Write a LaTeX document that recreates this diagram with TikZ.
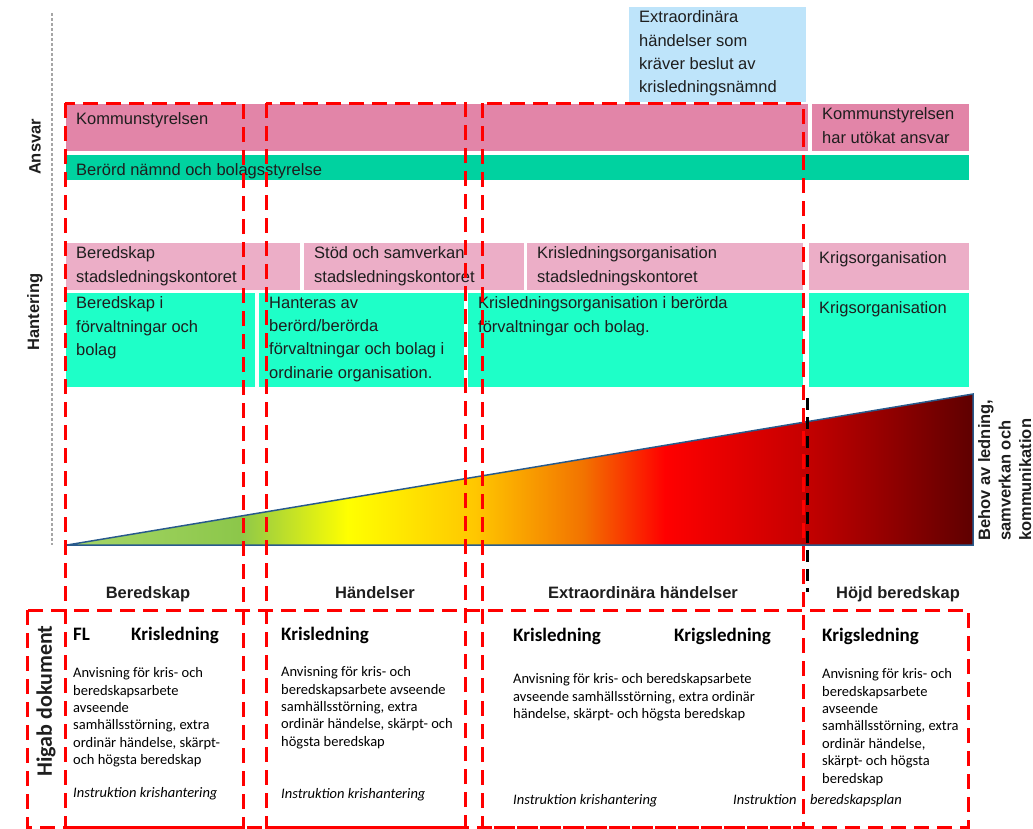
\documentclass[tikz,border=0pt]{standalone}
\usepackage{fontspec}
\setmainfont{Liberation Sans}
\newfontfamily\calibri{Carlito}
\usetikzlibrary{calc}

\definecolor{ksrosa}{RGB}{226,133,168}
\definecolor{ljusrosa}{RGB}{236,174,199}
\definecolor{namndgron}{RGB}{0,210,160}
\definecolor{turkos}{RGB}{30,255,200}
\definecolor{ljusbla}{RGB}{190,228,250}
\definecolor{textgra}{RGB}{30,30,30}
\definecolor{kantbla}{RGB}{40,90,140}

\pgfdeclarehorizontalshading{behov}{100bp}{rgb(0bp)=(0.65,0.84,0.41); rgb(25bp)=(0.65,0.84,0.41); rgb(34.5bp)=(0.55,0.78,0.29); rgb(40.5bp)=(1,1,0); rgb(47.5bp)=(1,0.78,0); rgb(53.5bp)=(0.95,0.45,0); rgb(58bp)=(1,0,0); rgb(65.5bp)=(0.78,0,0); rgb(75bp)=(0.37,0,0); rgb(100bp)=(0.37,0,0)}

\tikzstyle{rad} = [rectangle, anchor=north west, inner sep=0pt, outer sep=0pt]
\tikzstyle{rutext} = [anchor=north west, inner sep=0pt, align=left, text=textgra, font=\fontsize{16.5}{23.4}\selectfont, execute at begin node=\strut, xshift=10pt, yshift=-3.5pt]
\tikzstyle{kolumn} = [anchor=base, inner sep=0pt, text=textgra, font=\bfseries\fontsize{16.5}{20}\selectfont]
\tikzstyle{sidtext} = [rotate=90, inner sep=0pt, text=textgra, font=\bfseries\fontsize{16.5}{20.5}\selectfont]
\tikzstyle{rubrik} = [anchor=base west, inner sep=0pt, font=\calibri\bfseries\fontsize{19}{22}\selectfont]
\tikzstyle{brodtext} = [anchor=north west, inner sep=0pt, align=left, font=\calibri\fontsize{14.5}{17.4}\selectfont, execute at begin node=\strut]
\tikzstyle{instr} = [anchor=base west, inner sep=0pt, font=\calibri\itshape\fontsize{14.5}{17.4}\selectfont]
\tikzstyle{streck} = [red, line width=3pt, dash pattern=on 15pt off 8pt]

\begin{document}
\begin{tikzpicture}[x=1pt, y=-1pt]
        \useasboundingbox (0,0) rectangle (1033,828);

        % Ansvar
        \node (beslut) [rad, fill=ljusbla, minimum width=177pt, minimum height=95pt] at (629,7) {};
        \node (beslut_t) [rutext] at (beslut.north west) {Extraordinära\\händelser som\\kräver beslut av\\krisledningsnämnd};
        \node (ks) [rad, fill=ksrosa, minimum width=742pt, minimum height=47pt] at (66,104) {};
        \node (ks_t) [rutext] at (ks.north west) {Kommunstyrelsen};
        \node (ks_hb) [rad, fill=ksrosa, minimum width=157pt, minimum height=47pt] at (812,104) {};
        \node (ks_hb_t) [rutext] at (ks_hb.north west) {Kommunstyrelsen\\har utökat ansvar};
        \node (namnd) [rad, fill=namndgron, minimum width=903pt, minimum height=25pt] at (66,155) {};
        \node (namnd_t) [rutext] at (namnd.north west) {Berörd nämnd och bolagsstyrelse};

        % Hantering
        \node (slk1) [rad, fill=ljusrosa, minimum width=234pt, minimum height=47pt] at (66,243) {};
        \node (slk1_t) [rutext] at (slk1.north west) {Beredskap\\stadsledningskontoret};
        \node (slk2) [rad, fill=ljusrosa, minimum width=220pt, minimum height=47pt] at (304,243) {};
        \node (slk2_t) [rutext] at (slk2.north west) {Stöd och samverkan\\stadsledningskontoret};
        \node (slk3) [rad, fill=ljusrosa, minimum width=276pt, minimum height=47pt] at (527,243) {};
        \node (slk3_t) [rutext] at (slk3.north west) {Krisledningsorganisation\\stadsledningskontoret};
        \node (slk4) [rad, fill=ljusrosa, minimum width=160pt, minimum height=47pt] at (809,243) {};
        \node (slk4_t) [rutext] at (slk4.north west) {Krigsorganisation};
        \node (forv1) [rad, fill=turkos, minimum width=189pt, minimum height=94pt] at (66,293) {};
        \node (forv1_t) [rutext] at (forv1.north west) {Beredskap i\\förvaltningar och\\bolag};
        \node (forv2) [rad, fill=turkos, minimum width=205pt, minimum height=94pt] at (259,293) {};
        \node (forv2_t) [rutext] at (forv2.north west) {Hanteras av\\berörd/berörda\\förvaltningar och bolag i\\ordinarie organisation.};
        \node (forv3) [rad, fill=turkos, minimum width=335pt, minimum height=94pt] at (468,293) {};
        \node (forv3_t) [rutext] at (forv3.north west) {Krisledningsorganisation i berörda\\förvaltningar och bolag.};
        \node (forv4) [rad, fill=turkos, minimum width=160pt, minimum height=94pt] at (809,293) {};
        \node (forv4_t) [rutext] at (forv4.north west) {Krigsorganisation};

        % behov
        \coordinate (spets) at (67,545);
        \coordinate (topp) at (973,394);
        \coordinate (fot) at (973,545);
        \shadedraw [shading=behov, draw=kantbla, line width=1.5pt] (spets) -- (topp) -- (fot) -- cycle;
        \node (behov) [sidtext, anchor=north west, align=left, execute at begin node=\strut] at (978,541) {Behov av ledning,\\samverkan och\\kommunikation};

        \node (ansvar) [sidtext] at (35,147) {Ansvar};
        \node (hantering) [sidtext] at (35,312) {Hantering};
        \node (higab) [sidtext, font=\calibri\bfseries\fontsize{22}{26}\selectfont] at (46,701) {Higab dokument};
        \draw [gray!70, line width=1.2pt, dash pattern=on 3pt off 2pt] (52,13) -- (52,545);

        \node (fas1) [kolumn] at (148,598) {Beredskap};
        \node (fas2) [kolumn] at (375,598) {Händelser};
        \node (fas3) [kolumn] at (643,598) {Extraordinära händelser};
        \node (fas4) [kolumn] at (898,598) {Höjd beredskap};

        % Higab dokument
        \node (fl) [rubrik] at (73,640) {FL};
        \node (kris1) [rubrik] at (131,640) {Krisledning};
        \node (anv1) [brodtext] at (73,667.5) {Anvisning för kris- och\\beredskapsarbete\\avseende\\samhällsstörning, extra\\ordinär händelse, skärpt-\\och högsta beredskap};
        \node (instr1) [instr] at (73,797) {Instruktion krishantering};
        \node (kris2) [rubrik] at (281,640) {Krisledning};
        \node (anv2) [brodtext] at (281,666.5) {Anvisning för kris- och\\beredskapsarbete avseende\\samhällsstörning, extra\\ordinär händelse, skärpt- och\\högsta beredskap};
        \node (instr2) [instr] at (281,798) {Instruktion krishantering};
        \node (kris3) [rubrik] at (513,641) {Krisledning};
        \node (krig3) [rubrik] at (674,641) {Krigsledning};
        \node (anv3) [brodtext] at (513,673.5) {Anvisning för kris- och beredskapsarbete\\avseende samhällsstörning, extra ordinär\\händelse, skärpt- och högsta beredskap};
        \node (instr3) [instr] at (513,804) {Instruktion krishantering};
        \node (instr4) [instr] at (733,804) {Instruktion};
        \node (krig4) [rubrik] at (822,641) {Krigsledning};
        \node (anv4) [brodtext] at (822,668.5) {Anvisning för kris- och\\beredskapsarbete\\avseende\\samhällsstörning, extra\\ordinär händelse,\\skärpt- och högsta\\beredskap};
        \node (plan4) [instr] at (810,804) {beredskapsplan};

        % streckade ramar
        \draw [streck] (65,103) rectangle (243,827);
        \draw [streck] (266,103) rectangle (465,827);
        \draw [streck] (482,103) rectangle (803,827);
        \draw [streck] (27,610) rectangle (968,827);
        \draw [black, line width=3pt, dash pattern=on 12pt off 7pt] (807,398) -- (807,592);
    \end{tikzpicture}
\end{document}
